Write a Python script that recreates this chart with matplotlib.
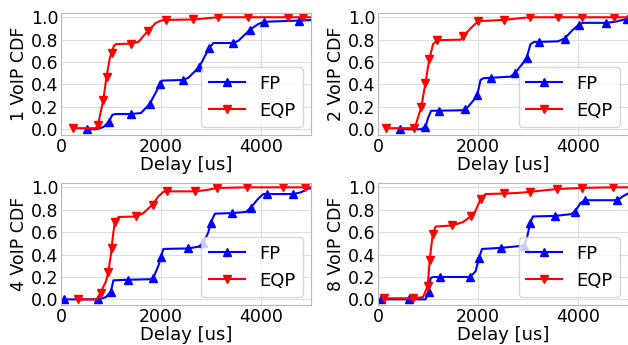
import matplotlib.pyplot as plt

# CDF curves of VoIP delay, FP vs EQP, for 1/2/4/8 VoIP flows.
# *_x: delay [us], *_y: CDF, *_mk: delays that carry a marker

# ---- 1 VoIP ----
fp1_x = [527, 700, 850, 960, 1030, 1100, 1400, 1600, 1773, 1900, 1980, 2030, 2447, 2550,
         2767, 2900, 2967, 3050, 3447, 3550, 3780, 3950, 4067, 4760, 5000]
fp1_y = [0.0, 0.0, 0.02, 0.068, 0.13, 0.136, 0.136, 0.145, 0.225, 0.33, 0.40, 0.435, 0.44, 0.46,
         0.556, 0.67, 0.725, 0.77, 0.77, 0.79, 0.888, 0.94, 0.96, 0.97, 0.975]
fp1_mk = [527, 960, 1400, 1773, 1980, 2447, 2767, 2967, 3447, 3780, 4067, 4760]

eqp1_x = [247, 700, 733, 760, 847, 913, 980, 1013, 1060, 1100, 1400, 1550, 1733, 1900, 2000,
          2100, 2647, 2900, 3133, 3747, 4547, 4847, 5000]
eqp1_y = [0.01, 0.01, 0.04, 0.08, 0.26, 0.47, 0.64, 0.68, 0.745, 0.76, 0.765, 0.78, 0.875, 0.95,
          0.97, 0.976, 0.98, 0.99, 1.0, 1.0, 1.0, 1.0, 1.0]
eqp1_mk = [247, 733, 847, 913, 1013, 1400, 1733, 2100, 2647, 3133, 3747, 4547, 4847]

# ---- 2 VoIP ----
fp2_x = [429, 850, 946, 1000, 1060, 1215, 1700, 1731, 1800, 1930, 1986, 2050, 2100, 2268, 2650,
         2738, 2880, 2973, 3050, 3120, 3214, 3600, 3731, 3900, 4020, 4100, 4556, 4750, 4972, 5000]
fp2_y = [0.0, 0.0, 0.02, 0.1, 0.165, 0.166, 0.17, 0.177, 0.2, 0.27, 0.31, 0.44, 0.455, 0.46, 0.47,
         0.50, 0.58, 0.64, 0.76, 0.78, 0.78, 0.785, 0.81, 0.89, 0.935, 0.95, 0.95, 0.96, 0.985, 0.985]
fp2_mk = [429, 946, 1215, 1731, 1986, 2268, 2738, 2973, 3214, 3731, 4020, 4556, 4972]

eqp2_x = [161, 700, 725, 760, 866, 946, 1027, 1100, 1188, 1650, 1704, 1850, 2000, 2510, 2800,
          3040, 3597, 4086, 4724, 5000]
eqp2_y = [0.01, 0.01, 0.015, 0.05, 0.2, 0.41, 0.63, 0.76, 0.795, 0.80, 0.83, 0.9, 0.965, 0.976,
          0.99, 1.0, 1.0, 1.0, 1.0, 1.0]
eqp2_mk = [161, 725, 866, 946, 1027, 1188, 1704, 2000, 2510, 3040, 3597, 4086, 4724]

# ---- 4 VoIP ----
fp4_x = [67, 747, 900, 1000, 1050, 1347, 1800, 1847, 1950, 2000, 2050, 2547, 2750, 2847, 2950,
         2993, 3080, 3413, 3700, 3793, 3950, 4050, 4113, 4647, 4800, 4950, 5000]
fp4_y = [0.0, 0.0, 0.02, 0.07, 0.17, 0.175, 0.18, 0.19, 0.3, 0.38, 0.45, 0.455, 0.47, 0.50, 0.6,
         0.68, 0.765, 0.77, 0.78, 0.816, 0.9, 0.94, 0.94, 0.94, 0.955, 0.99, 0.99]
fp4_mk = [67, 747, 1000, 1347, 1847, 2000, 2547, 2847, 2993, 3413, 3793, 4113, 4647]

eqp4_x = [347, 720, 793, 900, 947, 1000, 1013, 1050, 1080, 1150, 1500, 1650, 1833, 1950, 2050,
          2113, 2680, 2900, 3127, 3727, 4433, 4880, 5000]
eqp4_y = [0.0, 0.0, 0.06, 0.16, 0.24, 0.4, 0.46, 0.6, 0.69, 0.735, 0.74, 0.77, 0.846, 0.92, 0.96,
          0.964, 0.964, 0.975, 0.994, 1.0, 1.0, 1.0, 1.0]
eqp4_mk = [347, 793, 947, 1013, 1080, 1500, 1833, 2113, 2680, 3127, 3727, 4433, 4880]

# ---- 8 VoIP ----
fp8_x = [60, 624, 950, 1013, 1050, 1100, 1235, 1839, 1950, 2020, 2080, 2469, 2926, 2980, 3040,
         3100, 3543, 3850, 3932, 4050, 4147, 4784, 4900, 5000]
fp8_y = [0.0, 0.0, 0.0, 0.07, 0.19, 0.2, 0.2, 0.2, 0.25, 0.37, 0.45, 0.46, 0.48, 0.55, 0.68,
         0.74, 0.745, 0.76, 0.78, 0.86, 0.885, 0.885, 0.92, 0.945]
fp8_mk = [60, 624, 1013, 1235, 1839, 2020, 2469, 2926, 3040, 3543, 3932, 4147, 4784]

eqp8_x = [121, 698, 900, 993, 1033, 1094, 1150, 1483, 1700, 1852, 1950, 2053, 2150, 2510, 2800,
          3040, 3583, 4086, 4690, 5000]
eqp8_y = [0.01, 0.01, 0.02, 0.12, 0.35, 0.585, 0.65, 0.66, 0.69, 0.74, 0.79, 0.9, 0.94, 0.945,
          0.95, 0.96, 0.985, 0.995, 1.0, 1.0]
eqp8_mk = [121, 698, 993, 1033, 1094, 1483, 1852, 2053, 2510, 3040, 3583, 4086, 4690]

panels = [
    ("1 VoIP CDF", fp1_x, fp1_y, fp1_mk, eqp1_x, eqp1_y, eqp1_mk),
    ("2 VoIP CDF", fp2_x, fp2_y, fp2_mk, eqp2_x, eqp2_y, eqp2_mk),
    ("4 VoIP CDF", fp4_x, fp4_y, fp4_mk, eqp4_x, eqp4_y, eqp4_mk),
    ("8 VoIP CDF", fp8_x, fp8_y, fp8_mk, eqp8_x, eqp8_y, eqp8_mk),
]

plt.rcParams['font.size'] = 12.5

fig = plt.figure(figsize=(6.28, 3.45), dpi=100)
boxes = [
    [0.097, 0.609, 0.398, 0.354],
    [0.602, 0.609, 0.398, 0.354],
    [0.097, 0.116, 0.398, 0.354],
    [0.602, 0.116, 0.398, 0.354],
]

for box, (ylab, fx, fy, fmk, ex, ey, emk) in zip(boxes, panels):
    ax = fig.add_axes(box)
    ax.plot(fx, fy, color='b', lw=1.5, marker='^', ms=6,
            markevery=[fx.index(d) for d in fmk], label='FP')
    ax.plot(ex, ey, color='r', lw=1.5, marker='v', ms=6,
            markevery=[ex.index(d) for d in emk], label='EQP')
    ax.set_xlim(0, 5000)
    ax.set_ylim(-0.05, 1.04)
    ax.set_xticks([0, 2000, 4000])
    ax.set_yticks([0.0, 0.2, 0.4, 0.6, 0.8, 1.0])
    ax.set_xlabel('Delay [us]', fontsize=13, labelpad=0)
    ax.set_ylabel(ylab, labelpad=2)
    ax.grid(True, color='#dddddd', lw=0.8)
    ax.tick_params(length=0, pad=2)
    for s in ax.spines.values():
        s.set_color('#b8b8b8')
    ax.legend(loc='lower right', fontsize=13, borderaxespad=0.45)

fig.savefig('out.png', dpi=100)
